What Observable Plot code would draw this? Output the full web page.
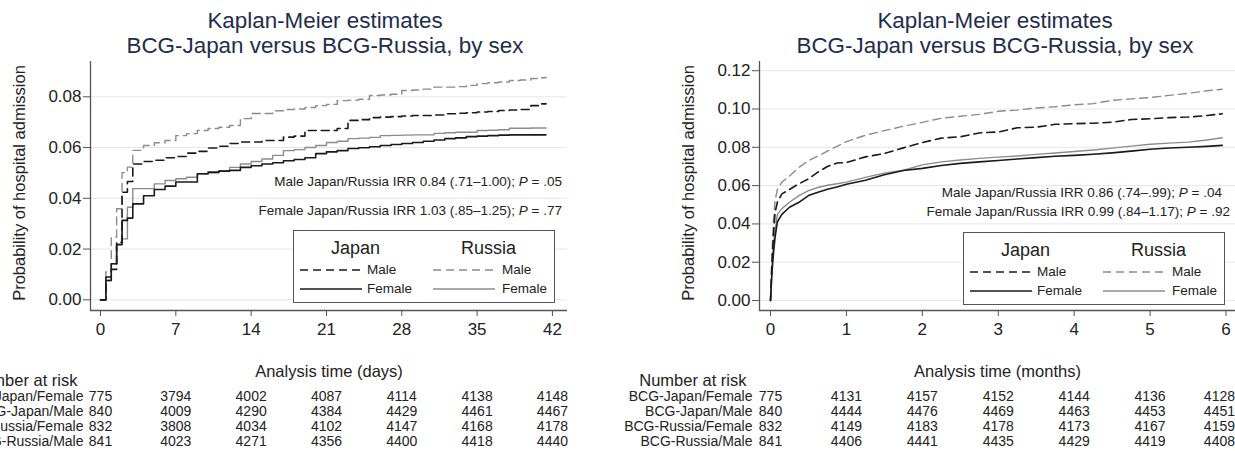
<!DOCTYPE html>
<html><head><meta charset="utf-8">
<script src="https://cdn.jsdelivr.net/npm/d3@7"></script>
<script src="https://cdn.jsdelivr.net/npm/@observablehq/plot@0.6"></script>
<style>
body{margin:0;background:#fff;font-family:"Liberation Sans",Arial,Helvetica,sans-serif;}
#page{position:relative;width:1235px;height:451px;overflow:hidden;background:#fff;}
#page svg{position:absolute;}
.title{position:absolute;color:#1f2d4d;font-size:22.4px;line-height:25px;height:25px;text-align:center;white-space:nowrap;width:600px;}
.note{position:absolute;font-size:13.5px;line-height:16px;white-space:nowrap;text-align:right;color:#222;}
.legend{position:absolute;border:1.5px solid #555;background:#fff;box-sizing:border-box;width:262px;height:73px;}
.legend div{position:absolute;white-space:nowrap;color:#222;}
.lh{font-size:18px;line-height:20px;width:100px;text-align:center;}
.ll{font-size:13.5px;line-height:16px;}
.legend svg{position:absolute;overflow:visible;}
</style></head><body><div id="page"></div>
<script>
// ---------- Data: days panel (Kaplan-Meier, step function) ----------
const daysTime = [0,0.5,1,1.5,2,2.5,3,4,5,6,7,8,9,10,11,12,13,14,15,16,17,18,19,20,21,22,23,24,25,26,27,28,29,30,31,32,33,34,35,36,37,38,39,40,41,41.4];
const daysJapanFemale = [0,.0076,.0142,.0217,.0313,.0322,.0378,.0410,.0435,.0448,.0464,.0464,.0497,.0503,.0507,.0510,.0522,.0528,.0535,.0540,.0548,.0553,.0560,.0576,.0583,.0588,.0596,.0599,.0603,.0608,.0612,.0616,.0620,.0625,.0630,.0635,.0638,.0643,.0645,.0647,.0649,.0650,.0650,.0650,.0650,.0650];
const daysJapanMale = [0,.009,.012,.0227,.0424,.0466,.0535,.0545,.055,.056,.0565,.0578,.0585,.0598,.0605,.0616,.0622,.0622,.0628,.0628,.0641,.0645,.0667,.0667,.0667,.0675,.0707,.071,.0718,.072,.0722,.0724,.0726,.0726,.0728,.0733,.0735,.0737,.074,.0742,.0746,.0748,.075,.0765,.0772,.0773];
const daysRussiaFemale = [0,.0076,.0142,.022,.024,.0365,.0438,.0438,.0457,.047,.0477,.0483,.0496,.05,.0509,.0522,.0535,.0545,.0555,.0569,.0588,.0592,.06,.0608,.062,.0625,.0635,.0637,.064,.0647,.0648,.0649,.065,.065,.0656,.0658,.066,.066,.0667,.0668,.067,.0676,.0676,.0677,.0677,.0677];
const daysRussiaMale = [0,.011,.0247,.0359,.0501,.0523,.0589,.0608,.0619,.0628,.0647,.0655,.0667,.0675,.068,.0687,.0714,.0734,.0734,.0745,.075,.0752,.0758,.0765,.077,.0785,.0787,.079,.0805,.0807,.081,.0825,.0827,.083,.0838,.0838,.084,.0845,.0852,.0855,.0858,.0864,.0866,.0872,.0875,.0877];

// ---------- Data: months panel ----------
const monthsTime = [0,0.02,0.04,0.06,0.09,0.15,0.25,0.375,0.5,0.625,0.75,0.875,1,1.25,1.5,1.75,2,2.25,2.5,2.75,3,3.25,3.5,3.75,4,4.25,4.5,4.75,5,5.25,5.5,5.75,5.95];
const monthsJapanFemale = [0,.015,.025,.033,.041,.045,.0487,.0513,.0548,.0565,.0581,.0593,.0607,.0628,.0657,.0679,.069,.0705,.0716,.0724,.0731,.0739,.0746,.0753,.0758,.0764,.0771,.078,.079,.0796,.08,.0805,.081];
const monthsJapanMale = [0,.02,.035,.046,.0513,.0557,.058,.061,.0635,.067,.070,.0718,.072,.075,.0768,.0797,.0825,.0848,.0855,.0875,.088,.0902,.0905,.092,.0923,.0926,.0931,.0945,.0949,.0955,.0958,.0966,.0975];
const monthsRussiaFemale = [0,.018,.03,.036,.045,.048,.0513,.0548,.0574,.059,.0602,.061,.0618,.0643,.0665,.068,.0708,.0724,.0734,.0742,.0749,.0755,.0763,.077,.0778,.0786,.0796,.0806,.0816,.0822,.0827,.0838,.085];
const monthsRussiaMale = [0,.025,.042,.052,.058,.0618,.065,.0696,.073,.0755,.078,.0805,.083,.0863,.0887,.091,.093,.0952,.0962,.0972,.0988,.0995,.1005,.1012,.1022,.1028,.1045,.1053,.106,.1071,.1082,.1095,.1103];

// ---------- Number at risk ----------
const riskRows = ["BCG-Japan/Female","BCG-Japan/Male","BCG-Russia/Female","BCG-Russia/Male"];
const riskDaysTimes = [0,7,14,21,28,35,42];
const riskDaysJapanFemale = [775,3794,4002,4087,4114,4138,4148];
const riskDaysJapanMale = [840,4009,4290,4384,4429,4461,4467];
const riskDaysRussiaFemale = [832,3808,4034,4102,4147,4168,4178];
const riskDaysRussiaMale = [841,4023,4271,4356,4400,4418,4440];
const riskMonthsTimes = [0,1,2,3,4,5,6];
const riskMonthsJapanFemale = [775,4131,4157,4152,4144,4136,4128];
const riskMonthsJapanMale = [840,4444,4476,4469,4463,4453,4451];
const riskMonthsRussiaFemale = [832,4149,4183,4178,4173,4167,4159];
const riskMonthsRussiaMale = [841,4406,4441,4435,4429,4419,4408];

// ---------- Tick values and texts ----------
const daysXTicks = [0,7,14,21,28,35,42];
const daysYTicks = [0,0.02,0.04,0.06,0.08];
const monthsXTicks = [0,1,2,3,4,5,6];
const monthsYTicks = [0,0.02,0.04,0.06,0.08,0.10,0.12];
const titleLines = ["Kaplan-Meier estimates","BCG-Japan versus BCG-Russia, by sex"];
const yLabel = "Probability of hospital admission";
const daysNotes = [["Male Japan/Russia IRR 0.84 (.71\u20131.00); ", ".05"],["Female Japan/Russia IRR 1.03 (.85\u20131.25); ", ".77"]];
const monthsNotes = [["Male Japan/Russia IRR 0.86 (.74\u2013.99); ", ".04"],["Female Japan/Russia IRR 0.99 (.84\u20131.17); ", ".92"]];

const FONT = '"Liberation Sans", Arial, Helvetica, sans-serif';
const BLACK = "#1a1a1a", GRAY = "#8c8c8c";
const styles = [
  {name:"RussiaFemale", stroke:GRAY, dash:null, w:1.4},
  {name:"RussiaMale", stroke:GRAY, dash:"8,5", w:1.4},
  {name:"JapanFemale", stroke:BLACK, dash:null, w:1.6},
  {name:"JapanMale", stroke:BLACK, dash:"8,5", w:1.6}
];

const panels = [
  {left:0, width:617, ml:90, mr:50, xDomain:[-0.93,43.4], yDomain:[-0.0042,0.0939],
   xTicks:daysXTicks, yTicks:daysYTicks, xLabel:"Analysis time (days)", curve:"step-after",
   time:daysTime, series:{JapanFemale:daysJapanFemale, JapanMale:daysJapanMale, RussiaFemale:daysRussiaFemale, RussiaMale:daysRussiaMale},
   riskTimes:riskDaysTimes, risk:[riskDaysJapanFemale,riskDaysJapanMale,riskDaysRussiaFemale,riskDaysRussiaMale], flushLast:false,
   titleCenter:325, notes:daysNotes, noteRight:[562,562], noteY:[182,211], legend:[293,230]},
  {left:617, width:618, ml:142, mr:0, xDomain:[-0.145,6.125], yDomain:[-0.0052,0.1248],
   xTicks:monthsXTicks, yTicks:monthsYTicks, xLabel:"Analysis time (months)", curve:"linear",
   time:monthsTime, series:{JapanFemale:monthsJapanFemale, JapanMale:monthsJapanMale, RussiaFemale:monthsRussiaFemale, RussiaMale:monthsRussiaMale},
   riskTimes:riskMonthsTimes, risk:[riskMonthsJapanFemale,riskMonthsJapanMale,riskMonthsRussiaFemale,riskMonthsRussiaMale], flushLast:true,
   titleCenter:995, notes:monthsNotes, noteRight:[1222,1230], noteY:[193,212], legend:[963,232]}
];

const page = document.getElementById("page");

function mainPlot(p){
  const lineMarks = styles.map(s => {
    const rows = p.time.map((t,i)=>({t, v:p.series[s.name][i]}));
    return Plot.line(rows, {x:"t", y:"v", stroke:s.stroke, strokeWidth:s.w, strokeDasharray:s.dash, curve:p.curve});
  });
  return Plot.plot({
    width:p.width, height:385, marginLeft:p.ml, marginRight:p.mr, marginTop:61, marginBottom:75,
    style:{fontFamily:FONT, background:"transparent", color:"#222", overflow:"visible"},
    x:{domain:p.xDomain}, y:{domain:p.yDomain},
    marks:[
      Plot.gridY(p.yTicks, {stroke:"#e6e6e6", strokeOpacity:1, strokeWidth:1}),
      Plot.ruleY([p.yDomain[0]], {stroke:"#555", strokeWidth:1.3}),
      Plot.ruleX([p.xDomain[0]], {stroke:"#555", strokeWidth:1.3}),
      Plot.axisY(p.yTicks, {tickFormat:d3.format(".2f"), tickSize:7, tickPadding:2, fontSize:17, stroke:"#555", label:null}),
      Plot.axisX(p.xTicks, {tickSize:6, tickPadding:6, fontSize:17, stroke:"#555", label:null}),
      ...lineMarks,
      Plot.text([yLabel], {frameAnchor:"left", textAnchor:"middle", lineAnchor:"middle", rotate:-90, dx:-71, dy:-3, fontSize:16.5, fill:"#222"}),
      Plot.text([p.xLabel], {frameAnchor:"bottom", textAnchor:"middle", lineAnchor:"middle", dy:61, fontSize:16.5, fill:"#222"})
    ]
  });
}

function riskPlot(p){
  const data = [];
  riskRows.forEach((r,j)=> p.riskTimes.forEach((t,i)=> data.push({t, row:r, n:String(p.risk[j][i])})));
  const lastT = p.riskTimes[p.riskTimes.length-1];
  const main = p.flushLast ? data.filter(d=>d.t!==lastT) : data;
  const last = p.flushLast ? data.filter(d=>d.t===lastT) : [];
  return Plot.plot({
    width:p.width, height:86, marginLeft:p.ml, marginRight:p.mr, marginTop:30, marginBottom:9.5,
    style:{fontFamily:FONT, background:"transparent", color:"#222", overflow:"visible"},
    x:{domain:p.xDomain, axis:null}, y:{type:"point", domain:riskRows, padding:0},
    marks:[
      Plot.axisY({tickSize:0, tickPadding:7, fontSize:14, label:null}),
      Plot.text(main, {x:"t", y:"row", text:"n", fontSize:14, fill:"#222"}),
      Plot.text(last, {x:"t", y:"row", text:"n", fontSize:14, fill:"#222", textAnchor:"end", dx:9}),
      Plot.text(["Number at risk"], {frameAnchor:"top-left", textAnchor:"end", lineAnchor:"middle", dx:-13, dy:-15, fontSize:16.5, fill:"#222"})
    ]
  });
}

function addLegend(p){
  const box = document.createElement("div");
  box.className = "legend";
  box.style.left = p.legend[0]+"px"; box.style.top = p.legend[1]+"px";
  const cols = [{head:"Japan", cx:61.5, lx:5.5, tx:73, color:BLACK, w:1.6},{head:"Russia", cx:194.5, lx:138.5, tx:208, color:GRAY, w:1.4}];
  const rowsL = [{lab:"Male", y:39, dash:"8,5"},{lab:"Female", y:58, dash:null}];
  cols.forEach(c=>{
    const h = document.createElement("div"); h.className="lh"; h.textContent=c.head;
    h.style.left=(c.cx-50)+"px"; h.style.top=(17-10)+"px"; box.appendChild(h);
    rowsL.forEach(r=>{
      const svg = d3.create("svg").attr("width",63).attr("height",4)
        .style("left",c.lx+"px").style("top",(r.y-2)+"px");
      svg.append("line").attr("x1",0).attr("x2",62).attr("y1",2).attr("y2",2)
        .attr("stroke",c.color).attr("stroke-width",c.w).attr("stroke-dasharray",r.dash);
      box.appendChild(svg.node());
      const t = document.createElement("div"); t.className="ll"; t.textContent=r.lab;
      t.style.left=c.tx+"px"; t.style.top=(r.y-8)+"px"; box.appendChild(t);
    });
  });
  page.appendChild(box);
}

panels.forEach(p=>{
  const m = mainPlot(p); m.style.left=p.left+"px"; m.style.top="0px"; page.appendChild(m);
  const r = riskPlot(p); r.style.left=p.left+"px"; r.style.top="365px"; page.appendChild(r);
  titleLines.forEach((line,i)=>{
    const t = document.createElement("div"); t.className="title";
    t.style.left=(p.titleCenter-300)+"px"; t.style.top=(8+i*25)+"px";
    t.textContent = line; page.appendChild(t);
  });
  p.notes.forEach((n,i)=>{
    const d = document.createElement("div"); d.className="note";
    d.style.right=(1235-p.noteRight[i])+"px"; d.style.top=(p.noteY[i]-8)+"px";
    d.append(n[0]); const it=document.createElement("i"); it.textContent="P"; d.append(it); d.append(" = "+n[1]);
    page.appendChild(d);
  });
  addLegend(p);
});
</script></body></html>
